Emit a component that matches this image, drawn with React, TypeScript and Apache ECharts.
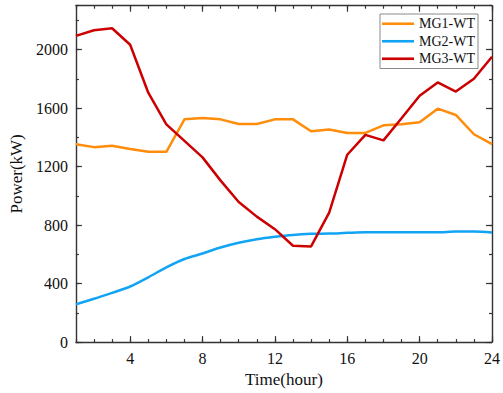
import React, { useEffect, useRef } from "react";
import * as echarts from "echarts";

const hours = [1,2,3,4,5,6,7,8,9,10,11,12,13,14,15,16,17,18,19,20,21,22,23,24];
const mg1 = [1353,1333,1342,1320,1301,1301,1523,1532,1523,1491,1491,1523,1523,1442,1453,1430,1430,1482,1489,1503,1596,1553,1421,1353];
const mg2 = [258,296,337,380,443,511,568,606,647,679,703,720,733,740,742,747,751,751,751,751,751,756,756,749];
const mg3 = [2094,2132,2146,2033,1705,1489,1376,1263,1104,958,858,772,659,654,885,1281,1417,1379,1530,1684,1775,1713,1800,1951];
const seriesNames = ["MG1-WT", "MG2-WT", "MG3-WT"];
const xMajor = [4, 8, 12, 16, 20, 24];
const yMajor = [0, 400, 800, 1200, 1600, 2000];

const FONT = "'Liberation Serif', 'Times New Roman', serif";
const AX = "#333";

export default function App() {
  const ref = useRef<HTMLDivElement>(null);
  useEffect(() => {
    if (!ref.current) return;
    const chart = echarts.init(ref.current, undefined, { renderer: "svg" });
    const baseX = (pos: string, major: boolean, labels: boolean) => ({
      type: "value",
      min: 1,
      max: 24,
      interval: 1,
      position: pos,
      axisLine: { show: !major, onZero: false, lineStyle: { color: AX, width: 1.4 } },
      axisTick: major
        ? { show: true, inside: true, length: 6, customValues: xMajor, lineStyle: { color: AX, width: 1.2 } }
        : { show: true, inside: true, length: 3, lineStyle: { color: AX, width: 1.2 } },
      axisLabel: labels
        ? {
            show: true, fontFamily: FONT, fontSize: 16, fontWeight: "normal", color: "#111", margin: 8,
            formatter: (v: number) => (xMajor.indexOf(v) >= 0 ? String(v) : ""),
          }
        : { show: false },
      splitLine: { show: false },
      ...(labels
        ? { name: "Time(hour)", nameLocation: "middle", nameGap: 26, nameTextStyle: { fontFamily: FONT, fontSize: 17, color: "#111" } }
        : {}),
    });
    const baseY = (pos: string, major: boolean, labels: boolean) => ({
      type: "value",
      min: 0,
      max: 2300,
      interval: 200,
      position: pos,
      axisLine: { show: !major, onZero: false, lineStyle: { color: AX, width: 1.4 } },
      axisTick: major
        ? { show: true, inside: true, length: 6, customValues: yMajor, lineStyle: { color: AX, width: 1.2 } }
        : { show: true, inside: true, length: 3, lineStyle: { color: AX, width: 1.2 } },
      axisLabel: labels
        ? {
            show: true, fontFamily: FONT, fontSize: 16, fontWeight: "normal", color: "#111", margin: 8,
            formatter: (v: number) => (yMajor.indexOf(v) >= 0 ? String(v) : ""),
          }
        : { show: false },
      splitLine: { show: false },
      ...(labels
        ? { name: "Power(kW)", nameLocation: "middle", nameGap: 47, nameTextStyle: { fontFamily: FONT, fontSize: 17, color: "#111" } }
        : {}),
    });
    const mk = (arr: number[]) => hours.map((h, i) => [h, arr[i]]);
    chart.setOption({
      animation: false,
      backgroundColor: "#fff",
      textStyle: { fontFamily: FONT },
      grid: { left: 73.3, right: 7.3, top: 5.7, bottom: 47.7, containLabel: false },
      xAxis: [
        baseX("bottom", false, true),
        baseX("bottom", true, false),
        baseX("top", false, false),
        baseX("top", true, false),
      ],
      yAxis: [
        baseY("left", false, true),
        baseY("left", true, false),
        baseY("right", false, false),
        baseY("right", true, false),
      ],
      legend: {
        orient: "vertical",
        left: 380,
        top: 14,
        data: seriesNames,
        icon: "rect",
        itemWidth: 32,
        itemHeight: 2.6,
        itemGap: 2,
        padding: [2, 3, 2, 2],
        borderColor: "#8a8a8a",
        borderWidth: 1,
        backgroundColor: "#fff",
        textStyle: { fontFamily: FONT, fontSize: 14, color: "#111", lineHeight: 15.5 },
      },
      series: [
        { name: seriesNames[0], type: "line", data: mk(mg1), symbol: "none", lineStyle: { color: "#FF8C0A", width: 2.5 }, itemStyle: { color: "#FF8C0A" }, z: 3 },
        { name: seriesNames[1], type: "line", data: mk(mg2), symbol: "none", smooth: 0.3, lineStyle: { color: "#12A4F4", width: 2.5 }, itemStyle: { color: "#12A4F4" }, z: 3 },
        { name: seriesNames[2], type: "line", data: mk(mg3), symbol: "none", lineStyle: { color: "#CC0000", width: 2.5 }, itemStyle: { color: "#CC0000" }, z: 4 },
      ],
    });
    return () => chart.dispose();
  }, []);
  return <div ref={ref} style={{ position: "fixed", left: 0, top: 0, width: 503, height: 393 }} />;
}
